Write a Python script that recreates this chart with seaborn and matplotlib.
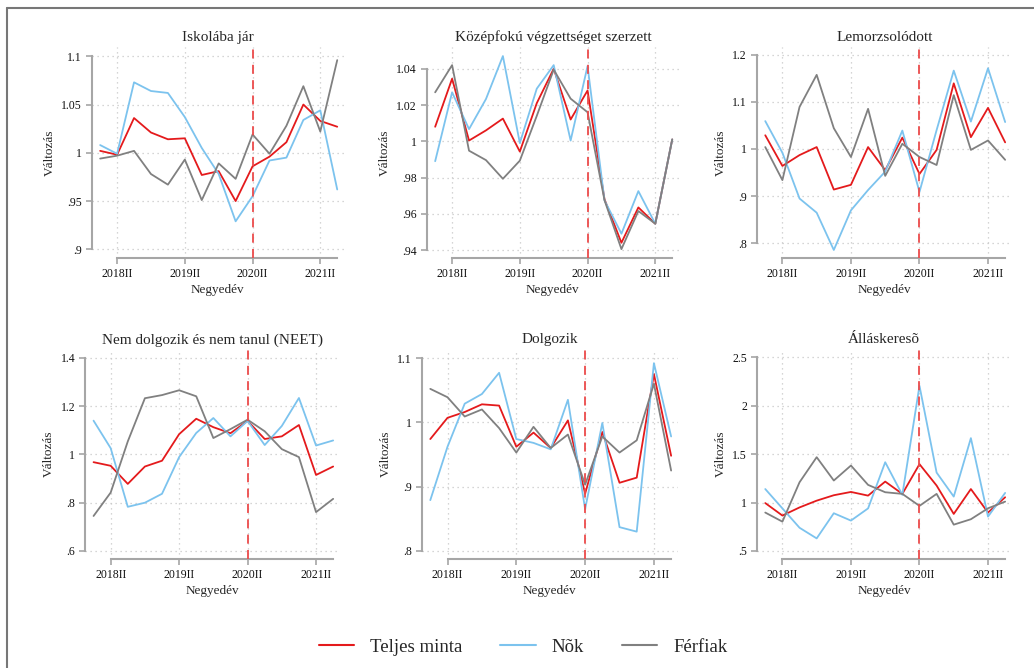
import numpy as np
import pandas as pd
import matplotlib
matplotlib.use("Agg")
import matplotlib.pyplot as plt
from matplotlib.lines import Line2D
import seaborn as sns

# quarters 2018Q1 .. 2021Q3
quarters = list(range(15))
tick_pos = [1, 5, 9, 13]
tick_labels = ["2018II", "2019II", "2020II", "2021II"]
groups = ["Teljes minta", "Nõk", "Férfiak"]
colors = ["#e41a1c", "#7cc3ee", "#808080"]

titles = ["Iskolába jár", "Középfokú végzettséget szerzett", "Lemorzsolódott",
          "Nem dolgozik és nem tanul (NEET)", "Dolgozik", "Álláskeresõ"]

# Iskolába jár
isk_teljes = [1.002, 0.998, 1.036, 1.021, 1.014, 1.015, 0.977, 0.981, 0.950, 0.986, 0.996, 1.011, 1.050, 1.033, 1.027]
isk_nok = [1.008, 0.999, 1.073, 1.064, 1.062, 1.037, 1.005, 0.978, 0.929, 0.955, 0.992, 0.995, 1.034, 1.044, 0.962]
isk_ferfi = [0.994, 0.997, 1.002, 0.978, 0.967, 0.993, 0.951, 0.989, 0.973, 1.019, 0.999, 1.028, 1.069, 1.022, 1.096]
# Középfokú végzettséget szerzett
koz_teljes = [1.008, 1.0345, 1.0004, 1.006, 1.0125, 0.9943, 1.021, 1.040, 1.012, 1.028, 0.968, 0.944, 0.9635, 0.9545, 1.001]
koz_nok = [0.989, 1.027, 1.0067, 1.0233, 1.047, 0.999, 1.029, 1.042, 1.0004, 1.0415, 0.9674, 0.949, 0.9725, 0.9545, 1.001]
koz_ferfi = [1.027, 1.042, 0.9948, 0.9896, 0.9793, 0.9893, 1.014, 1.0395, 1.0235, 1.016, 0.9675, 0.9405, 0.9615, 0.9545, 1.001]
# Lemorzsolódott
lem_teljes = [1.029, 0.964, 0.987, 1.004, 0.914, 0.924, 1.004, 0.955, 1.024, 0.947, 0.998, 1.139, 1.025, 1.087, 1.014]
lem_nok = [1.059, 0.992, 0.895, 0.865, 0.786, 0.870, 0.913, 0.952, 1.039, 0.909, 1.040, 1.166, 1.058, 1.171, 1.057]
lem_ferfi = [1.004, 0.934, 1.089, 1.157, 1.044, 0.983, 1.085, 0.943, 1.011, 0.983, 0.966, 1.114, 0.998, 1.018, 0.977]
# NEET
neet_teljes = [0.968, 0.953, 0.878, 0.950, 0.974, 1.084, 1.148, 1.113, 1.088, 1.139, 1.064, 1.075, 1.122, 0.915, 0.950]
neet_nok = [1.140, 1.026, 0.783, 0.800, 0.837, 0.989, 1.089, 1.151, 1.075, 1.139, 1.039, 1.118, 1.234, 1.037, 1.058]
neet_ferfi = [0.745, 0.842, 1.054, 1.233, 1.246, 1.266, 1.241, 1.068, 1.105, 1.144, 1.096, 1.022, 0.989, 0.761, 0.816]
# Dolgozik
dol_teljes = [0.974, 1.007, 1.016, 1.028, 1.026, 0.962, 0.984, 0.960, 1.003, 0.889, 0.985, 0.906, 0.914, 1.075, 0.948]
dol_nok = [0.879, 0.962, 1.029, 1.044, 1.077, 0.974, 0.968, 0.958, 1.035, 0.865, 0.999, 0.837, 0.830, 1.092, 0.978]
dol_ferfi = [1.052, 1.039, 1.009, 1.020, 0.991, 0.953, 0.993, 0.960, 0.981, 0.903, 0.978, 0.953, 0.972, 1.060, 0.925]
# Álláskeresõ
all_teljes = [0.995, 0.866, 0.950, 1.020, 1.076, 1.110, 1.072, 1.217, 1.090, 1.397, 1.176, 0.883, 1.140, 0.897, 1.055]
all_nok = [1.140, 0.940, 0.740, 0.630, 0.890, 0.814, 0.940, 1.417, 1.080, 2.207, 1.310, 1.062, 1.666, 0.855, 1.100]
all_ferfi = [0.897, 0.803, 1.210, 1.469, 1.228, 1.383, 1.183, 1.107, 1.090, 0.966, 1.090, 0.772, 0.828, 0.941, 1.010]

series = [
    (isk_teljes, isk_nok, isk_ferfi),
    (koz_teljes, koz_nok, koz_ferfi),
    (lem_teljes, lem_nok, lem_ferfi),
    (neet_teljes, neet_nok, neet_ferfi),
    (dol_teljes, dol_nok, dol_ferfi),
    (all_teljes, all_nok, all_ferfi),
]

yticks = [
    ([0.9, 0.95, 1.0, 1.05, 1.1], [".9", ".95", "1", "1.05", "1.1"]),
    ([0.94, 0.96, 0.98, 1.0, 1.02, 1.04], [".94", ".96", ".98", "1", "1.02", "1.04"]),
    ([0.8, 0.9, 1.0, 1.1, 1.2], [".8", ".9", "1", "1.1", "1.2"]),
    ([0.6, 0.8, 1.0, 1.2, 1.4], [".6", ".8", "1", "1.2", "1.4"]),
    ([0.8, 0.9, 1.0, 1.1], [".8", ".9", "1", "1.1"]),
    ([0.5, 1.0, 1.5, 2.0, 2.5], [".5", "1", "1.5", "2", "2.5"]),
]
ylims = [(0.891, 1.1096), (0.9356, 1.052), (0.769, 1.216),
         (0.5655, 1.437), (0.787, 1.114), (0.414, 2.587)]

sns.set_theme(style="white")
plt.rcParams["font.family"] = ["Liberation Serif", "DejaVu Serif"]

W, H = 1034, 668
fig = plt.figure(figsize=(W / 100, H / 100), dpi=100)

# axes boxes in pixels: left, top, right, bottom
boxes = [(91.7, 47, 344, 258), (426.7, 47, 679, 258), (756.7, 47, 1012, 258),
         (85, 349, 340, 559.3), (421.7, 349, 678, 559.3), (756.7, 349, 1012, 559.3)]

spine_col = "#a6a6a6"
for i in range(6):
    l, t, r, b = boxes[i]
    ax = fig.add_axes([l / W, 1 - b / H, (r - l) / W, (b - t) / H])
    df = pd.DataFrame({
        "q": quarters * 3,
        "val": series[i][0] + series[i][1] + series[i][2],
        "grp": [g for g in groups for _ in quarters],
    })
    sns.lineplot(data=df, x="q", y="val", hue="grp", hue_order=groups,
                 palette=colors, linewidth=1.3, legend=False, ax=ax)
    ax.axvline(9, color="#ec4b4b", linestyle=(0, (5, 3.5)), linewidth=1.3, zorder=5)
    ax.set_xlim(-0.5, 14.4)
    ax.set_ylim(*ylims[i])
    ax.set_xticks(tick_pos)
    ax.set_xticklabels(tick_labels, fontsize=8.5)
    ax.set_yticks(yticks[i][0])
    ax.set_yticklabels(yticks[i][1], fontsize=8.5)
    ax.grid(True, linestyle=(0, (1, 3)), color="#c8c8c8", linewidth=0.9)
    for s in ["top", "right"]:
        ax.spines[s].set_visible(False)
    for s in ["left", "bottom"]:
        ax.spines[s].set_color(spine_col)
        ax.spines[s].set_linewidth(1.5)
    ax.spines["bottom"].set_bounds(1, 14)
    ax.spines["left"].set_bounds(yticks[i][0][0], yticks[i][0][-1])
    ax.tick_params(axis="both", which="both", length=4, width=1.2, color=spine_col,
                   bottom=True, left=True, pad=3, labelcolor="#111111")
    ax.set_title(titles[i], fontsize=11, pad=4)
    ax.set_xlabel("Negyedév", fontsize=9.5, labelpad=3)
    ax.set_ylabel("Változás", fontsize=9.5, labelpad=4)

handles = [Line2D([], [], color=c, linewidth=1.5) for c in colors]
fig.legend(handles, groups, loc="center", bbox_to_anchor=(523 / W, 1 - 647 / H), ncol=3,
           frameon=False, fontsize=13.5, handlelength=1.9, handletextpad=0.85,
           columnspacing=2.0)

# outer frame (top and left edges)
fig.add_artist(Line2D([7 / W, 7 / W], [0, 1 - 8 / H], transform=fig.transFigure,
                      color="#777777", linewidth=1.5))
fig.add_artist(Line2D([7 / W, 1], [1 - 8 / H, 1 - 8 / H], transform=fig.transFigure,
                      color="#777777", linewidth=1.5))

fig.savefig("out.png", dpi=100)
